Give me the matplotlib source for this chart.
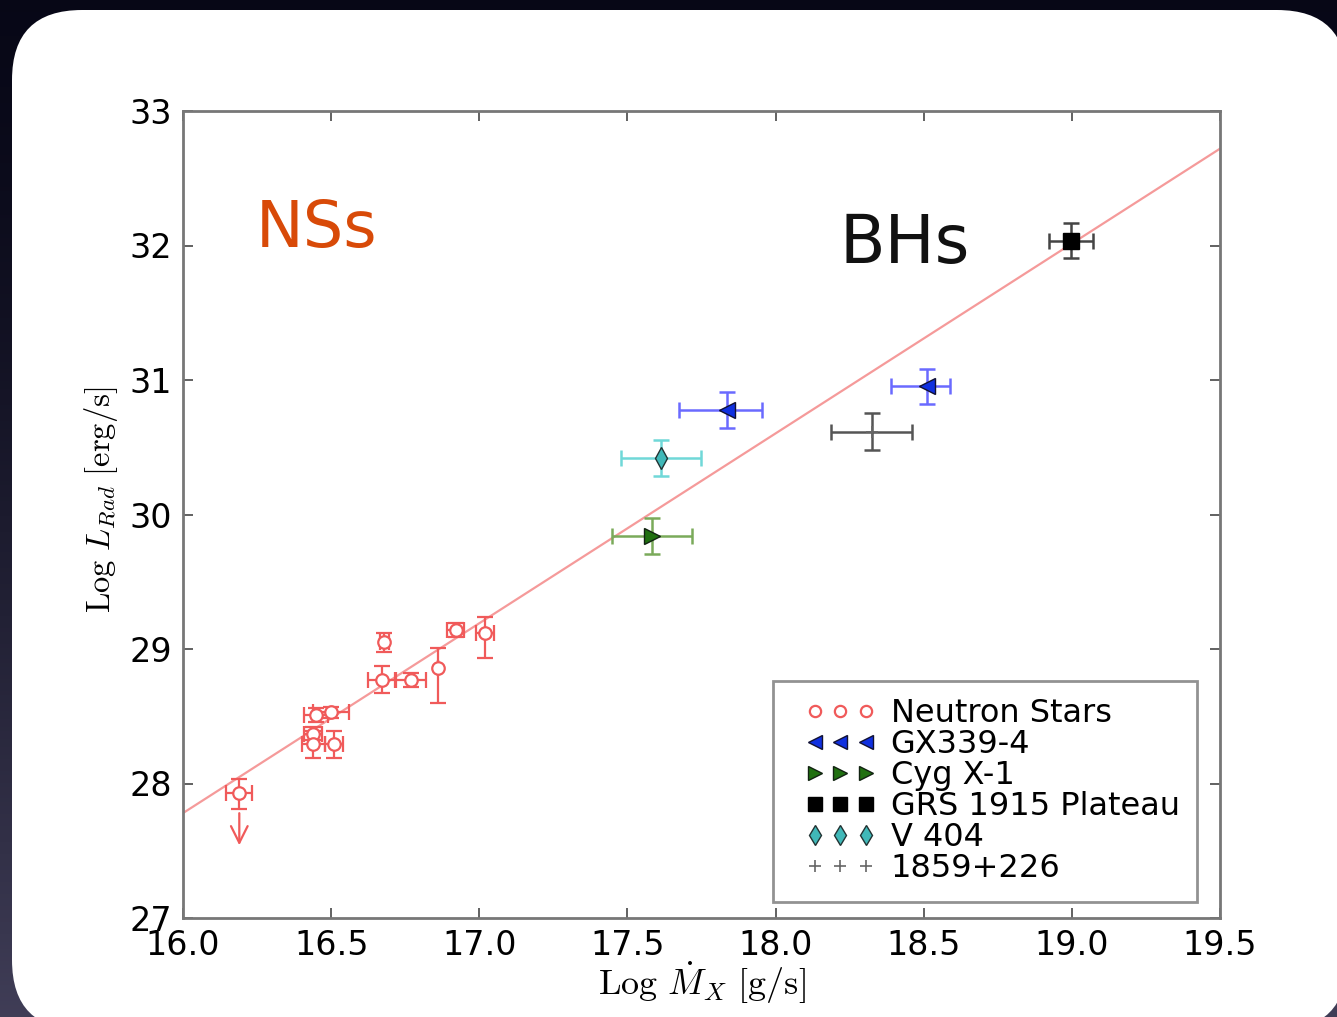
import numpy as np
import matplotlib
matplotlib.use("Agg")
import matplotlib.pyplot as plt
from matplotlib.patches import FancyBboxPatch
from matplotlib.lines import Line2D
from matplotlib.legend_handler import HandlerLine2D

plt.rcParams['mathtext.fontset'] = 'cm'
plt.rcParams['font.family'] = ['DejaVu Sans']

# Neutron star systems (log mdot, log L, errors)
ns_x = [16.19, 16.45, 16.50, 16.44, 16.44, 16.51, 16.67, 16.68, 16.77, 16.86, 16.92, 17.02]
ns_y = [27.93, 28.51, 28.53, 28.37, 28.29, 28.29, 28.77, 29.05, 28.77, 28.86, 29.14, 29.12]
ns_xerr = [0.044, 0.04, 0.06, 0.03, 0.04, 0.03, 0.045, 0.015, 0.05, 0.0, 0.03, 0.03]
ns_yerr_lo = [0.12, 0.05, 0.04, 0.05, 0.10, 0.10, 0.10, 0.07, 0.05, 0.26, 0.05, 0.19]
ns_yerr_hi = [0.10, 0.05, 0.04, 0.05, 0.10, 0.10, 0.10, 0.07, 0.05, 0.15, 0.05, 0.12]

# upper limit on the faintest source
ns_limit_x = 16.19
ns_limit_y = [27.80, 27.52]

# black hole systems
gx_x = [17.835, 18.51]
gx_y = [30.78, 30.955]
gx_xerr_lo = [0.16, 0.12]
gx_xerr_hi = [0.12, 0.08]
gx_yerr = [0.134, 0.13]

cyg_x = [17.582]
cyg_y = [29.84]
cyg_xerr = [0.135]
cyg_yerr = [0.136]

grs_x = [18.997]
grs_y = [32.035]
grs_xerr = [0.075]
grs_yerr = [0.13]

v404_x = [17.612]
v404_y = [30.42]
v404_xerr = [0.135]
v404_yerr = [0.136]

j1859_x = [18.324]
j1859_y = [30.615]
j1859_xerr = [0.137]
j1859_yerr = [0.136]

# fitted relation, end points
fit_x = [16.0, 19.5]
fit_y = [27.78, 32.72]

x_ticks = [16.0, 16.5, 17.0, 17.5, 18.0, 18.5, 19.0, 19.5]
y_ticks = [27, 28, 29, 30, 31, 32, 33]

W, H = 1337, 1017
fig = plt.figure(figsize=(W / 100, H / 100), dpi=100)

# dark slide background with a white rounded card
bg = fig.add_axes([0, 0, 1, 1], zorder=0)
grad = np.linspace(0, 1, 256).reshape(-1, 1) ** 1.5
top = np.array([0.03, 0.03, 0.09])
bot = np.array([0.25, 0.24, 0.34])
img = top + grad[..., None] * (bot - top)
bg.imshow(np.repeat(img, 4, axis=1), extent=[0, W, H, 0], aspect='auto')
bg.add_patch(FancyBboxPatch((12 + 70, 10 + 70), W + 10 - 12 - 140, 1030 - 10 - 140,
                            boxstyle="round,pad=70", fc='white', ec='none'))
bg.set_xlim(0, W)
bg.set_ylim(H, 0)
bg.axis('off')

ax = fig.add_axes([183 / W, 1 - 918 / H, (1220 - 183) / W, (918 - 111) / H], zorder=1)
ax.set_facecolor('none')

red = '#f05a5a'
ax.plot(fit_x, fit_y, color='#f59a9a', lw=1.6, zorder=1)

ax.errorbar(ns_x, ns_y, xerr=ns_xerr, yerr=[ns_yerr_lo, ns_yerr_hi], fmt='none',
            ecolor=red, elinewidth=1.6, capsize=6, capthick=1.6, zorder=2)
ax.annotate('', xy=(ns_limit_x, ns_limit_y[1]), xytext=(ns_limit_x, ns_limit_y[0]),
            arrowprops=dict(arrowstyle='->', color=red, lw=1.6, mutation_scale=30))
ax.plot(ns_x, ns_y, 'o', ms=9, mfc='white', mec=red, mew=1.6, ls='none',
        label='Neutron Stars', zorder=3)

ax.errorbar(gx_x, gx_y, xerr=[gx_xerr_lo, gx_xerr_hi], yerr=gx_yerr, fmt='none',
            ecolor='#6a6aff', elinewidth=1.8, capsize=6, capthick=1.8, zorder=2)
ax.plot(gx_x, gx_y, '<', ms=11, mfc='#1030e0', mec='#111133', mew=1,
        ls='none', label='GX339-4', zorder=3)

ax.errorbar(cyg_x, cyg_y, xerr=cyg_xerr, yerr=cyg_yerr, fmt='none',
            ecolor='#7aaa5a', elinewidth=1.8, capsize=6, capthick=1.8, zorder=2)
ax.plot(cyg_x, cyg_y, '>', ms=11, mfc='#207010', mec='#112211', mew=1,
        ls='none', label='Cyg X-1', zorder=3)

ax.errorbar(grs_x, grs_y, xerr=grs_xerr, yerr=grs_yerr, fmt='none',
            ecolor='#444444', elinewidth=1.8, capsize=6, capthick=1.8, zorder=2)
ax.plot(grs_x, grs_y, 's', ms=11, mfc='black', mec='black',
        ls='none', label='GRS 1915 Plateau', zorder=3)

ax.errorbar(v404_x, v404_y, xerr=v404_xerr, yerr=v404_yerr, fmt='none',
            ecolor='#70d8d8', elinewidth=1.8, capsize=6, capthick=1.8, zorder=2)
ax.plot(v404_x, v404_y, 'd', ms=11, mfc='#40b8b8', mec='#223333', mew=1,
        ls='none', label='V 404', zorder=3)

ax.errorbar(j1859_x, j1859_y, xerr=j1859_xerr, yerr=j1859_yerr, fmt='none',
            ecolor='#555555', elinewidth=1.8, capsize=6, capthick=1.8, zorder=2)
ax.plot(j1859_x, j1859_y, '+', ms=9, mec='#666666', mew=1.2,
        ls='none', label='1859+226', zorder=3)

ax.set_xlim(16.0, 19.5)
ax.set_ylim(27, 33)
ax.set_xticks(x_ticks)
ax.set_xticklabels([f'{t:.1f}' for t in x_ticks])
ax.set_yticks(y_ticks)
ax.tick_params(direction='in', length=7, width=1.3, color='#555555',
               top=True, right=True, labelsize=24, pad=8)
for s in ax.spines.values():
    s.set_color('#777777')
    s.set_linewidth(2)

ax.set_xlabel(r'$\mathrm{Log}\ \dot{M}_X\ \mathrm{[g/s]}$', fontsize=26, labelpad=-2)
ax.set_ylabel(r'$\mathrm{Log}\ L_{Rad}\ \mathrm{[erg/s]}$', fontsize=23.5, labelpad=7)
ax.yaxis.label.set_y(0.518)

# legend shows markers only, three per entry
leg = ax.legend(loc='lower right', bbox_to_anchor=(0.978, 0.02), borderaxespad=0,
                numpoints=3, fontsize=23, labelspacing=0.0, handlelength=3.1,
                handletextpad=0.02, borderpad=0.55, fancybox=False, markerscale=0.9,
                handler_map={Line2D: HandlerLine2D(marker_pad=0.76)})
leg.get_frame().set_edgecolor('#777777')
leg.get_frame().set_linewidth(2)

fig.text(256 / W, 1 - 247 / H, 'NSs', color='#d84a08', fontsize=46, va='baseline')
fig.text(839 / W, 1 - 263 / H, 'BHs', color='#111111', fontsize=48, va='baseline')

fig.savefig('out.png', dpi=100)
